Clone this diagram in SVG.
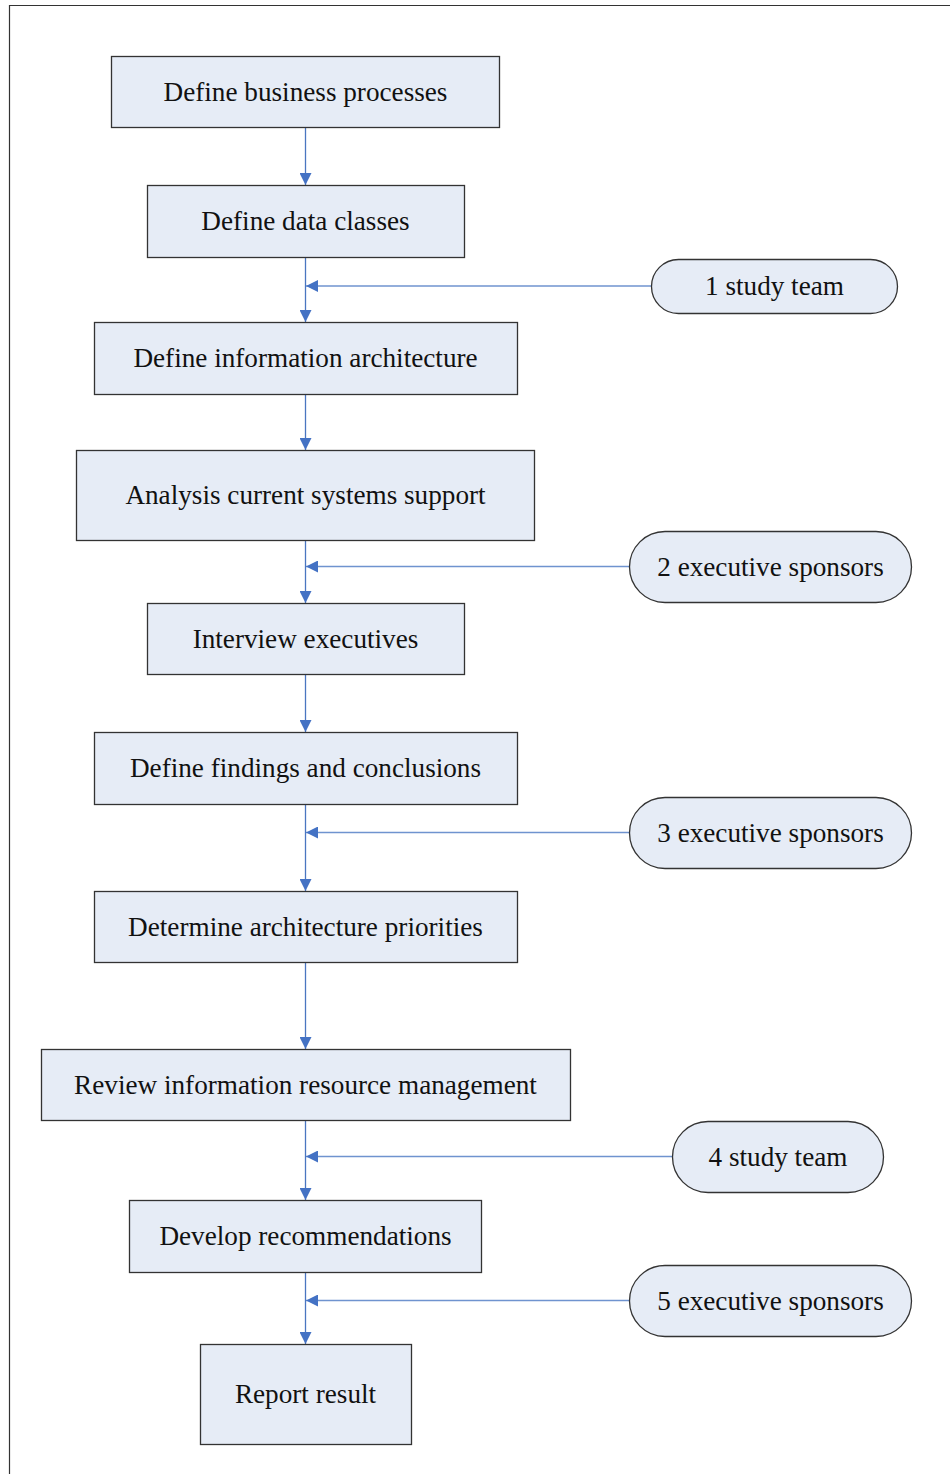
<svg xmlns="http://www.w3.org/2000/svg" width="950" height="1474" viewBox="0 0 950 1474">
  <style>
    .box { fill: #e6ecf6; stroke: #333333; stroke-width: 1.3; }
    .lbl { font-family: 'Liberation Serif', 'DejaVu Serif', serif; font-size: 27.2px; fill: #111111; text-anchor: middle; }
    .flow { stroke: #4a76c0; stroke-width: 1.3; fill: none; }
    .feed { stroke: #6f93cf; stroke-width: 1.3; fill: none; }
  </style>
  <defs>
    <marker id="head" viewBox="0 0 12 12" refX="12" refY="6" markerWidth="12" markerHeight="12" markerUnits="userSpaceOnUse" orient="auto">
      <path d="M0,0 L12,6 L0,12 Z" fill="#4472c4"/>
    </marker>
  </defs>
  <rect width="950" height="1474" fill="#ffffff"/>
  <!-- frame -->
  <path d="M9.5,1474 V5.5 H950" fill="none" stroke="#333333" stroke-width="1.2"/>

  <g id="connectors">
    <line class="flow" x1="305.5" y1="127" x2="305.5" y2="185" marker-end="url(#head)"/>
    <line class="flow" x1="305.5" y1="257" x2="305.5" y2="322" marker-end="url(#head)"/>
    <line class="flow" x1="305.5" y1="394" x2="305.5" y2="450" marker-end="url(#head)"/>
    <line class="flow" x1="305.5" y1="540" x2="305.5" y2="603" marker-end="url(#head)"/>
    <line class="flow" x1="305.5" y1="674" x2="305.5" y2="732" marker-end="url(#head)"/>
    <line class="flow" x1="305.5" y1="804" x2="305.5" y2="891" marker-end="url(#head)"/>
    <line class="flow" x1="305.5" y1="962" x2="305.5" y2="1049" marker-end="url(#head)"/>
    <line class="flow" x1="305.5" y1="1120" x2="305.5" y2="1200" marker-end="url(#head)"/>
    <line class="flow" x1="305.5" y1="1272" x2="305.5" y2="1344" marker-end="url(#head)"/>
    <line class="feed" x1="651" y1="286" x2="306" y2="286" marker-end="url(#head)"/>
    <line class="feed" x1="629" y1="566.5" x2="306" y2="566.5" marker-end="url(#head)"/>
    <line class="feed" x1="629" y1="832.5" x2="306" y2="832.5" marker-end="url(#head)"/>
    <line class="feed" x1="672" y1="1156.5" x2="306" y2="1156.5" marker-end="url(#head)"/>
    <line class="feed" x1="629" y1="1300.5" x2="306" y2="1300.5" marker-end="url(#head)"/>
  </g>

  <g id="define-business-processes">
    <rect class="box" x="111.5" y="56.5" width="388" height="71"/>
    <text class="lbl" x="305.5" y="100.5">Define business processes</text>
  </g>
  <g id="define-data-classes">
    <rect class="box" x="147.5" y="185.5" width="317" height="72"/>
    <text class="lbl" x="305.5" y="230">Define data classes</text>
  </g>
  <g id="define-information-architecture">
    <rect class="box" x="94.5" y="322.5" width="423" height="72"/>
    <text class="lbl" x="305.5" y="367">Define information architecture</text>
  </g>
  <g id="analysis-current-systems">
    <rect class="box" x="76.5" y="450.5" width="458" height="90"/>
    <text class="lbl" x="305.5" y="504">Analysis current systems support</text>
  </g>
  <g id="interview-executives">
    <rect class="box" x="147.5" y="603.5" width="317" height="71"/>
    <text class="lbl" x="305.5" y="647.5">Interview executives</text>
  </g>
  <g id="define-findings">
    <rect class="box" x="94.5" y="732.5" width="423" height="72"/>
    <text class="lbl" x="305.5" y="777">Define findings and conclusions</text>
  </g>
  <g id="determine-priorities">
    <rect class="box" x="94.5" y="891.5" width="423" height="71"/>
    <text class="lbl" x="305.5" y="935.5">Determine architecture priorities</text>
  </g>
  <g id="review-irm">
    <rect class="box" x="41.5" y="1049.5" width="529" height="71"/>
    <text class="lbl" x="305.5" y="1093.5">Review information resource management</text>
  </g>
  <g id="develop-recommendations">
    <rect class="box" x="129.5" y="1200.5" width="352" height="72"/>
    <text class="lbl" x="305.5" y="1245">Develop recommendations</text>
  </g>
  <g id="report-result">
    <rect class="box" x="200.5" y="1344.5" width="211" height="100"/>
    <text class="lbl" x="305.5" y="1403">Report result</text>
  </g>

  <g id="study-team-1">
    <rect class="box" x="651.5" y="259.5" width="246" height="54" rx="27"/>
    <text class="lbl" x="774.5" y="295">1 study team</text>
  </g>
  <g id="executive-sponsors-2">
    <rect class="box" x="629.5" y="531.5" width="282" height="71" rx="35.5"/>
    <text class="lbl" x="770.5" y="575.5">2 executive sponsors</text>
  </g>
  <g id="executive-sponsors-3">
    <rect class="box" x="629.5" y="797.5" width="282" height="71" rx="35.5"/>
    <text class="lbl" x="770.5" y="842">3 executive sponsors</text>
  </g>
  <g id="study-team-4">
    <rect class="box" x="672.5" y="1121.5" width="211" height="71" rx="35.5"/>
    <text class="lbl" x="778" y="1165.5">4 study team</text>
  </g>
  <g id="executive-sponsors-5">
    <rect class="box" x="629.5" y="1265.5" width="282" height="71" rx="35.5"/>
    <text class="lbl" x="770.5" y="1309.5">5 executive sponsors</text>
  </g>
</svg>
